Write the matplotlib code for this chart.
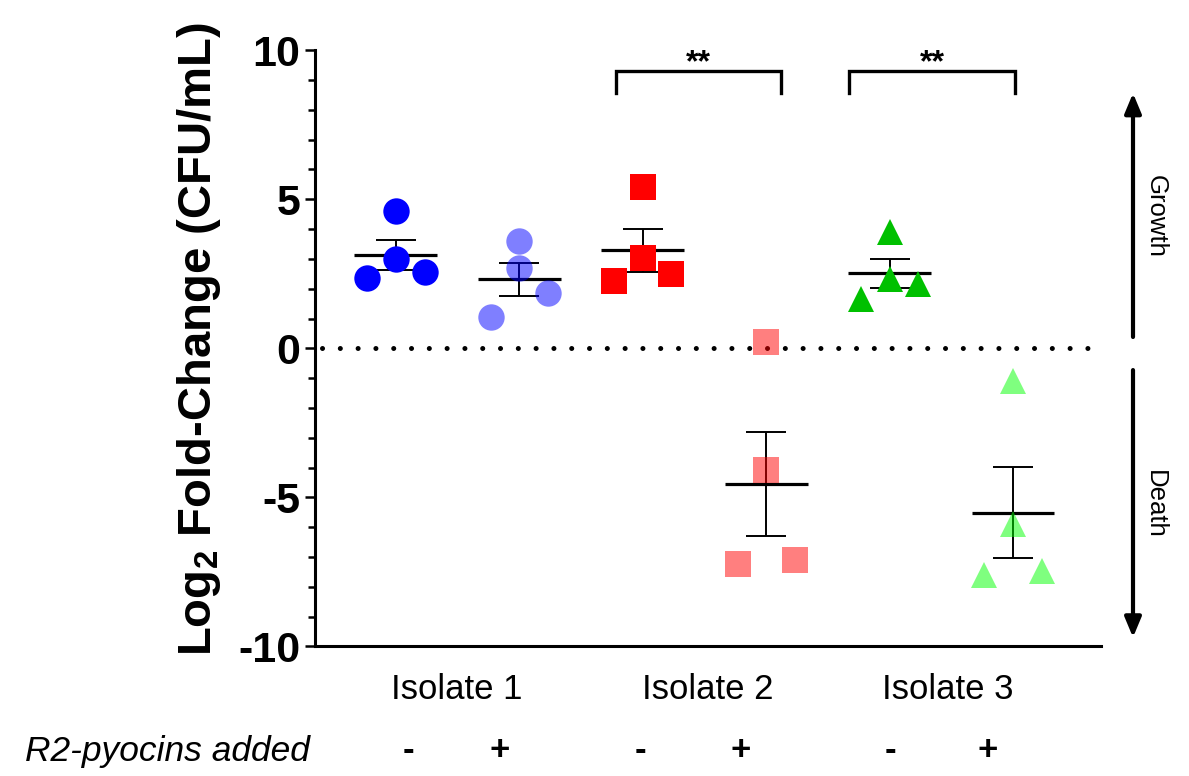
import numpy as np
import matplotlib
matplotlib.use('Agg')
import matplotlib.pyplot as plt
from matplotlib.ticker import MultipleLocator

plt.rcParams['font.family'] = ['Liberation Sans', 'DejaVu Sans']
plt.rcParams['axes.unicode_minus'] = False
plt.rcParams['mathtext.fontset'] = 'custom'
plt.rcParams['mathtext.rm'] = 'Liberation Sans:bold'
plt.rcParams['mathtext.bf'] = 'Liberation Sans:bold'

# data (log2 fold change, 4 replicates each)
isolates = ['Isolate 1', 'Isolate 2', 'Isolate 3']
pyocin_labels = ['-', '+', '-', '+', '-', '+']
iso1_minus = [4.60, 2.99, 2.35, 2.55]
iso1_plus = [3.61, 2.71, 1.06, 1.87]
iso2_minus = [5.41, 3.03, 2.26, 2.49]
iso2_plus = [0.21, -4.10, -7.24, -7.11]
iso3_minus = [3.91, 2.34, 1.66, 2.17]
iso3_plus = [-1.11, -5.88, -7.61, -7.47]
series = [iso1_minus, iso1_plus, iso2_minus, iso2_plus, iso3_minus, iso3_plus]

# style per column
colors = ['#0000FF', '#0000FF', '#FF0000', '#FF0000', '#00C000', '#00FF00']
alphas = [1, 0.5, 1, 0.5, 1, 0.5]
markers = ['o', 'o', 's', 's', '^', '^']
msizes = [19, 19, 18.5, 18.5, 18.5, 18.5]
jitter = [0, 0, -0.232, 0.232]

fig = plt.figure(figsize=(11.89, 7.76), dpi=100)
ax = fig.add_axes([0.2649, 0.1671, 0.6611, 0.7681])

for i, vals in enumerate(series):
    vals = np.array(vals)
    xs = i + np.array(jitter)
    ax.plot(xs, vals, linestyle='none', marker=markers[i], ms=msizes[i],
            color=colors[i], alpha=alphas[i], mew=0, zorder=3)
    m = vals.mean()
    sem = vals.std(ddof=1) / np.sqrt(len(vals))
    ax.hlines(m, i - 0.336, i + 0.336, color='black', lw=2.3, zorder=2)
    ax.errorbar(i, m, yerr=sem, fmt='none', ecolor='black', elinewidth=1.4,
                capsize=14.4, capthick=1.4, zorder=2)

ax.set_xlim(-0.656, 5.713)
ax.set_ylim(-10, 10)

# dotted zero line
ax.plot([-0.6, 5.64], [0, 0], color='black', lw=3.6,
        linestyle=(0, (0.01, 3.55)), dash_capstyle='round', zorder=1)

# significance brackets
for x0, x1 in [(1.78, 3.12), (3.67, 5.02)]:
    ax.plot([x0, x0, x1, x1], [8.57, 9.31, 9.31, 8.57], color='black', lw=2.4,
            solid_joinstyle='miter', clip_on=False)
    ax.text((x0 + x1) / 2, 9.31, '**', ha='center', va='baseline',
            fontsize=23, fontweight='bold')

for s in ['top', 'right']:
    ax.spines[s].set_visible(False)
ax.spines['left'].set_linewidth(2.2)
ax.spines['bottom'].set_linewidth(2.2)
ax.set_xticks([])
ax.yaxis.set_major_locator(MultipleLocator(5))
ax.yaxis.set_minor_locator(MultipleLocator(1))
ax.tick_params(axis='y', which='major', length=7.5, width=1.8, pad=3,
               labelsize=31)
ax.tick_params(axis='y', which='minor', length=5, width=1.8)
for lab in ax.get_yticklabels():
    lab.set_fontweight('bold')

ax.set_ylabel(r'Log$_{\mathrm{2}}$ Fold-Change (CFU/mL)', fontsize=34,
              fontweight='bold')
ax.yaxis.set_label_coords(-0.117, 0.516)

# category labels under the axis
tr = ax.get_xaxis_transform()
for xc, name in zip([0.494, 2.528, 4.473], isolates):
    ax.text(xc, -0.073, name, transform=tr, ha='center', va='center',
            fontsize=25)
for xc, sign in zip([0.105, 0.843, 1.985, 2.796, 4.01, 4.797], pyocin_labels):
    ax.text(xc, -0.174, sign, transform=tr, ha='center', va='center',
            fontsize=25, fontweight='bold')
fig.text(0.1405, 0.031, 'R2-pyocins added', ha='center', va='center',
         fontsize=25.5, style='italic')

# growth / death arrows on the right
yt = ax.get_yaxis_transform()
astyle = dict(arrowstyle='-|>,head_length=0.6,head_width=0.25', lw=3,
              color='black', mutation_scale=20, shrinkA=0, shrinkB=0)
ax.annotate('', xy=(1.0407, 8.56), xytext=(1.0407, 0.38), xycoords=yt,
            textcoords=yt, arrowprops=astyle, annotation_clip=False)
ax.annotate('', xy=(1.0407, -9.70), xytext=(1.0407, -0.73), xycoords=yt,
            textcoords=yt, arrowprops=astyle, annotation_clip=False)
ax.text(1.069, 4.44, 'Growth', transform=yt, rotation=-90, ha='center',
        va='center', fontsize=18.5)
ax.text(1.069, -5.23, 'Death', transform=yt, rotation=-90, ha='center',
        va='center', fontsize=18.5)

fig.savefig('out.png', dpi=100)
